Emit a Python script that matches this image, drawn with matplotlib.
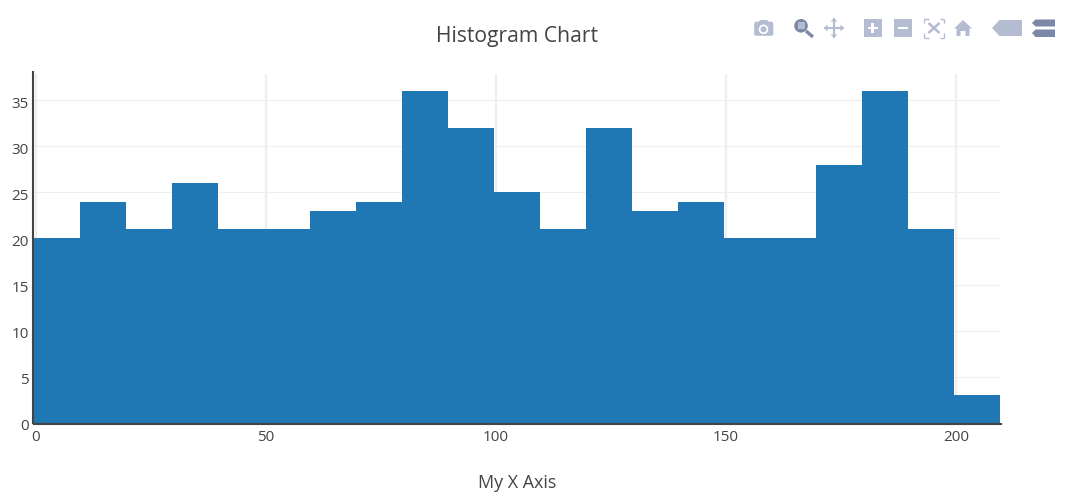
#!/usr/bin/env python3
"""Histogram chart with a plotly-style modebar drawn as plain patches."""

import matplotlib
matplotlib.use("Agg")
import matplotlib.pyplot as plt
from matplotlib.patches import Circle, FancyBboxPatch, Polygon, Rectangle

W, H = 1068, 501

BIN_LEFT = [-0.5, 9.5, 19.5, 29.5, 39.5, 49.5, 59.5, 69.5, 79.5, 89.5, 99.5,
            109.5, 119.5, 129.5, 139.5, 149.5, 159.5, 169.5, 179.5, 189.5, 199.5]
COUNTS = [20, 24, 21, 26, 21, 21, 23, 24, 36, 32, 25,
          21, 32, 23, 24, 20, 20, 28, 36, 21, 3]
X_TICKS = [0, 50, 100, 150, 200]
Y_TICKS = [0, 5, 10, 15, 20, 25, 30, 35]

BLUE = "#1f77b4"
TEXT = "#444444"
GRID = "#eeeeee"
ICON = "#b4bcd2"
ICON_DARK = "#7d88a6"

plt.rcParams["font.family"] = ["Open Sans", "DejaVu Sans"]

fig = plt.figure(figsize=(W / 100, H / 100), dpi=100)
ax = fig.add_axes([33.6 / W, 1 - 422.7 / H, 966.1 / W, 349 / H])

ax.bar(BIN_LEFT, COUNTS, width=10, align="edge", color=BLUE, lw=0, zorder=3)
ax.set_xlim(-0.5, 209.5)
ax.set_ylim(0, 37.89)
ax.set_xticks(X_TICKS)
ax.set_yticks(Y_TICKS)
ax.grid(True, axis="y", color=GRID, lw=0.8, zorder=0)
ax.grid(True, axis="x", color=GRID, lw=1.6, zorder=0)
ax.set_axisbelow(True)
ax.tick_params(length=0, labelsize=11, labelcolor=TEXT)
ax.tick_params(axis="x", pad=4)

# plotly sets the y labels a touch below their gridlines, tick_params can't do that
ax.set_yticklabels([])
for v in Y_TICKS:
    ax.annotate(str(v), xy=(0, v), xycoords=ax.get_yaxis_transform(), xytext=(-3.4, -1.5),
                textcoords="offset points", ha="right", va="center_baseline",
                fontsize=11, color=TEXT, annotation_clip=False)

for side in ("top", "right"):
    ax.spines[side].set_visible(False)
for side in ("left", "bottom"):
    ax.spines[side].set_color(TEXT)
    ax.spines[side].set_linewidth(1.5)
    ax.spines[side].set_zorder(5)
ax.spines["left"].set_position(("outward", 0.6))
ax.spines["bottom"].set_position(("outward", 1))
ax.spines["left"].set_bounds(0, 38.1)
ax.spines["bottom"].set_bounds(-0.5, 209.8)

fig.text(516.5 / W, 1 - 36.5 / H, "Histogram Chart", ha="center", va="center",
         fontsize=15.2, color=TEXT)
fig.text(517 / W, 1 - 483.5 / H, "My X Axis", ha="center", va="center",
         fontsize=12.9, color=TEXT)

# modebar, in pixel coordinates of the figure
bar = fig.add_axes([0, 0, 1, 1], facecolor="none")
bar.set_xlim(0, W)
bar.set_ylim(H, 0)
bar.axis("off")


def poly(pts, color=ICON):
    bar.add_patch(Polygon(pts, closed=True, fc=color, ec="none"))


def rect(x, y, w, h, color=ICON):
    bar.add_patch(Rectangle((x, y), w, h, fc=color, ec="none"))


def seg(x0, y0, x1, y1, color=ICON, lw=1.3):
    bar.plot([x0, x1], [y0, y1], color=color, lw=lw, solid_capstyle="butt")


# camera
bar.add_patch(FancyBboxPatch((755, 22.5), 17.5, 12.5, boxstyle="round,pad=0.8,rounding_size=2",
                             fc=ICON, ec="none"))
poly([(758, 23), (760, 20), (767, 20), (769, 23)])
bar.add_patch(Circle((763.5, 29.3), 4.8, fc="white", ec="none"))
bar.add_patch(Circle((763.5, 29.3), 3.0, fc=ICON, ec="none"))
# zoom (active)
seg(806, 31, 813, 37, ICON_DARK, 2.4)
bar.add_patch(Circle((801, 25.8), 6.8, fc=ICON_DARK, ec="none"))
rect(797.5, 22.3, 7, 7, ICON)
# pan
seg(824, 28, 844, 28, lw=1.5)
seg(834, 18, 834, 38, lw=1.5)
poly([(824, 28), (827.5, 24.5), (827.5, 31.5)])
poly([(844, 28), (840.5, 24.5), (840.5, 31.5)])
poly([(834, 18), (830.5, 21.5), (837.5, 21.5)])
poly([(834, 38), (830.5, 34.5), (837.5, 34.5)])
# zoom in, zoom out
rect(864, 19.3, 17.5, 17.5)
rect(868, 26.8, 9.5, 2.6, "white")
rect(871.4, 23.3, 2.6, 9.5, "white")
rect(894, 19.3, 17.5, 17.5)
rect(898, 26.8, 9.5, 2.6, "white")
# autoscale
for x, y, dx, dy in [(924, 18.5, 1, 1), (944, 18.5, -1, 1), (924, 37.5, 1, -1), (944, 37.5, -1, -1)]:
    seg(x, y, x + 4.5 * dx, y, lw=1)
    seg(x, y, x, y + 4.5 * dy, lw=1)
seg(928.5, 23, 939.5, 33, lw=1.8)
seg(939.5, 23, 928.5, 33, lw=1.8)
# home
poly([(963, 20), (972, 28.5), (969.5, 28.5), (969.5, 36), (965.5, 36), (965.5, 31),
      (960.5, 31), (960.5, 36), (956.5, 36), (956.5, 28.5), (954, 28.5)])
# hover closest
poly([(992, 28), (999.5, 20), (1022, 20), (1022, 36), (999.5, 36)])
# hover compare
poly([(1032, 23), (1035.5, 19.5), (1055, 19.5), (1055, 26.5), (1035.5, 26.5)], ICON_DARK)
poly([(1032, 33), (1035.5, 29.5), (1055, 29.5), (1055, 37), (1035.5, 37)], ICON_DARK)

fig.savefig("out.png", dpi=100)
